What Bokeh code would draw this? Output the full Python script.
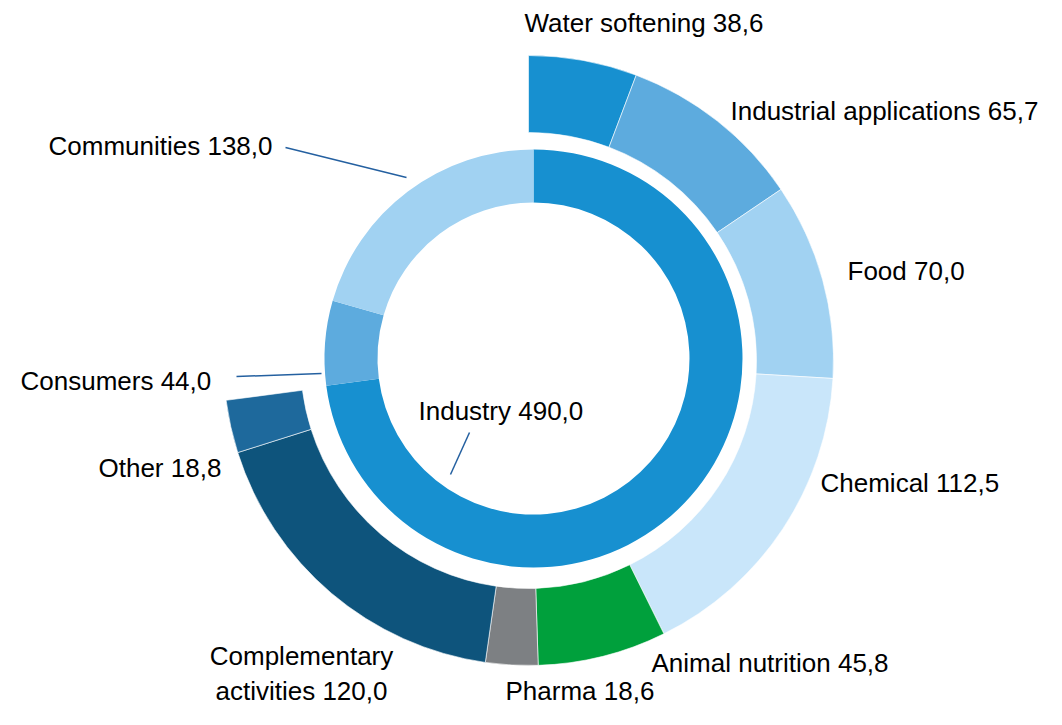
import numpy as np
from bokeh.plotting import figure
from bokeh.models import Range1d, ColumnDataSource
from bokeh.embed import file_html
from bokeh.resources import INLINE
from bokeh.core.properties import value

# ---- data ----
inner_names = ["Industry", "Consumers", "Communities"]
inner_values = [490.0, 44.0, 138.0]
inner_colors = ["#1790d0", "#5dabde", "#a1d2f2"]

outer_names = ["Water softening", "Industrial applications", "Food", "Chemical",
               "Animal nutrition", "Pharma", "Complementary activities", "Other"]
outer_values = [38.6, 65.7, 70.0, 112.5, 45.8, 18.6, 120.0, 18.8]
outer_colors = ["#1790d0", "#5dabde", "#a1d2f2", "#c9e6fa",
                "#00a03c", "#7d8083", "#0e547c", "#1e699c"]

def fmt(name, v):
    return f"{name} {v:.1f}".replace(".", ",")

# ---- layout (pixel-like coordinates, y negated) ----
W, H = 1046, 709
p = figure(width=W, height=H, x_range=Range1d(0, W), y_range=Range1d(-H, 0),
           output_backend="svg", toolbar_location=None, min_border=0,
           x_axis_location=None, y_axis_location=None)
p.grid.visible = False
p.outline_line_color = None

total = sum(inner_values)

def angles(vals):
    cum = np.concatenate([[0.0], np.cumsum(vals)])
    start = np.pi / 2 - 2 * np.pi * cum[:-1] / total
    end = np.pi / 2 - 2 * np.pi * cum[1:] / total
    return start, end

s_in, e_in = angles(inner_values)
src_in = ColumnDataSource(dict(start=s_in, end=e_in, color=inner_colors))
p.annular_wedge(x=533, y=-358, inner_radius=156, outer_radius=209,
                start_angle="start", end_angle="end", direction="clock",
                fill_color="color", line_color=None, source=src_in)

s_out, e_out = angles(outer_values)
src_out = ColumnDataSource(dict(start=s_out, end=e_out, color=outer_colors))
p.annular_wedge(x=528, y=-360, inner_radius=228, outer_radius=305,
                start_angle="start", end_angle="end", direction="clock",
                fill_color="color", line_color="white", line_width=0.6, source=src_out)

# leader lines
p.segment(x0=[285, 236, 469], y0=[-147, -376, -432],
          x1=[406, 321, 450], y1=[-177, -373, -474],
          line_color="#2460a0", line_width=1.5)

# labels
inner_lx = [418, 20, 48]
inner_ly = [410, 380, 145]
outer_lx = [524, 730, 847, 820, 651, 505, None, 98]
outer_ly = [22, 110, 270, 482, 662, 690, None, 467]

lt, lx, ly = [], [], []
for n, v, x, y in zip(inner_names, inner_values, inner_lx, inner_ly):
    lt.append(fmt(n, v)); lx.append(x); ly.append(-y)
for n, v, x, y in zip(outer_names, outer_values, outer_lx, outer_ly):
    if x is None:
        continue
    lt.append(fmt(n, v)); lx.append(x); ly.append(-y)

p.text(x=lx, y=ly, text=lt, text_font=value("Liberation Sans"), text_font_size="26px",
       text_color="#000000", text_baseline="middle", text_align="left")

# two-line centred label
ci = outer_names.index("Complementary activities")
comp = fmt(outer_names[ci], outer_values[ci]).replace("Complementary ", "Complementary\n")
p.text(x=[301], y=[-673], text=[comp], text_font=value("Liberation Sans"), text_font_size="26px",
       text_color="#000000", text_baseline="middle", text_align="center", text_line_height=1.15)

open("out.html", "w").write(file_html(p, INLINE))
